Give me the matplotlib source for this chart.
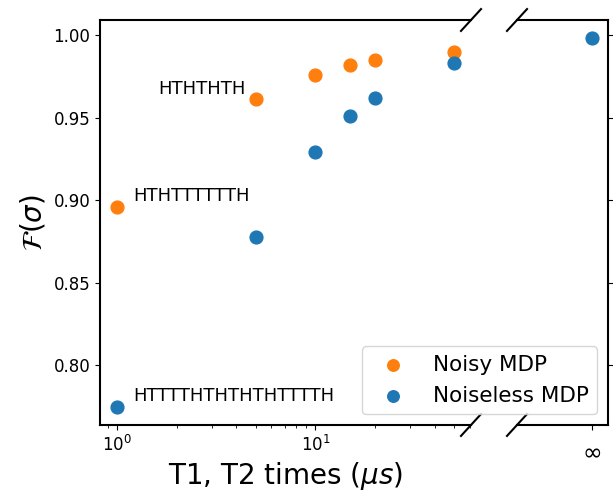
import matplotlib
matplotlib.use("Agg")
import matplotlib.pyplot as plt

# ---- data ----
t_times = [1, 5, 10, 15, 20, 50]
noisy = [0.896, 0.961, 0.976, 0.982, 0.985, 0.990]
noiseless = [0.775, 0.878, 0.929, 0.951, 0.962, 0.983]
inf_pos = [1.0]
noiseless_inf = [0.998]
inf_label = [r"$\infty$"]
annotations = [
    ("HTHTHTH", 5, 0.961, "right"),
    ("HTHTTTTTTH", 1, 0.896, "left"),
    ("HTTTTHTHTHTHTTTTH", 1, 0.775, "left"),
]
series_names = ["Noisy MDP", "Noiseless MDP"]
c_noisy = "#ff7f0e"
c_noiseless = "#1f77b4"

fig = plt.figure(figsize=(6.13, 4.92), dpi=100)
W, H = 613, 492
ax1 = fig.add_axes([100 / W, (H - 425) / H, 371 / W, 405 / H])
ax2 = fig.add_axes([517 / W, (H - 425) / H, 91 / W, 405 / H], sharey=ax1)

ms = 85
h_noisy = ax1.scatter(t_times, noisy, s=ms, color=c_noisy, label=series_names[0], zorder=3)
h_noiseless = ax1.scatter(t_times, noiseless, s=ms, color=c_noiseless, label=series_names[1], zorder=3)
ax2.scatter(inf_pos, noiseless_inf, s=ms, color=c_noiseless, zorder=3)

ax1.set_xscale("log")

for txt, x, y, ha in annotations:
    dx = 12 if ha == "left" else -7
    ax1.annotate(txt, xy=(x, y), xytext=(dx, 7.5), textcoords="offset points",
                 ha=ha, va="center", fontsize=13)

ax1.set_yticks([0.80, 0.85, 0.90, 0.95, 1.00])
ax1.tick_params(labelsize=12)
ax2.set_xlim(0.18, 1.18)
ax2.set_xticks(inf_pos)
ax2.set_xticklabels(inf_label, fontsize=17)
ax2.tick_params(axis="x", pad=7)
ax2.yaxis.tick_right()
ax2.tick_params(axis="y", labelright=False)

ax1.spines["right"].set_visible(False)
ax2.spines["left"].set_visible(False)
for ax in (ax1, ax2):
    for sp in ax.spines.values():
        sp.set_linewidth(1.5)

ax1.set_xlabel(r"T1, T2 times ($\mu s$)", fontsize=20)
ax1.set_ylabel(r"$\mathcal{F}(\sigma)$", fontsize=20)

# break marks
d = 0.027
kw = dict(color="k", clip_on=False, lw=1.5)
ax1.plot((1 - d, 1 + d), (1 - d, 1 + d), transform=ax1.transAxes, **kw)
ax1.plot((1 - d, 1 + d), (-d, d), transform=ax1.transAxes, **kw)
dx2 = d * 371 / 91
ax2.plot((-dx2, dx2), (1 - d, 1 + d), transform=ax2.transAxes, **kw)
ax2.plot((-dx2, dx2), (-d, d), transform=ax2.transAxes, **kw)

ax2.legend(handles=[h_noisy, h_noiseless], loc="lower right", fontsize=15.5,
           handlelength=2.1, markerscale=0.9)

fig.savefig("out.png", dpi=100)
